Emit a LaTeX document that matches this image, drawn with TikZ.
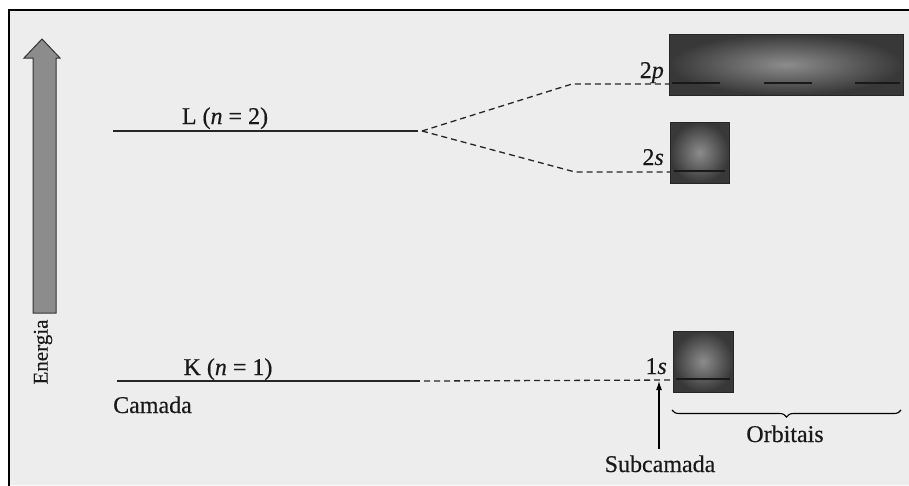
\documentclass[tikz,border=0pt]{standalone}
\usepackage{fontspec}
\setmainfont[FakeBold=0.4]{Liberation Serif}
\usetikzlibrary{decorations.pathreplacing,arrows.meta}
\tikzset{
  lbl/.style={font=\fontsize{24}{26}\selectfont, inner sep=0pt, black!90},
  level/.style={line width=1.4pt, black!85},
  dline/.style={dash pattern=on 6pt off 4pt, line width=1.3pt, black!85},
  orb/.style={draw=black!85, line width=1pt, inner color=black!45, outer color=black!78},
  tick/.style={line width=1.8pt, black!90}
}
\begin{document}
\begin{tikzpicture}[x=1pt,y=-1pt]
\useasboundingbox (0,0) rectangle (909,485);
\fill[white] (0,0) rectangle (909,485);
\fill[black!7] (9,10) rectangle (909,485);
\draw[line width=1.4pt] (9,490) -- (9,10) -- (915,10);
% energy arrow
\draw[fill=black!45, draw=black!80, line width=1pt]
  (33,313) -- (33,58) -- (24,58) -- (42,39) -- (60,58) -- (56,58) -- (56,313) -- cycle;
\node[lbl, font=\fontsize{21}{23}\selectfont, rotate=90] (en) at (43,352) {Energia};
% levels
\coordinate (Ls) at (113,131);
\coordinate (Le) at (418,131);
\draw[level] (Ls) -- (Le);
\node[lbl, anchor=base] (Llbl) at (225,124) {L (\textit{n} = 2)};
\coordinate (Ks) at (117,381);
\coordinate (Ke) at (420,381);
\draw[level] (Ks) -- (Ke);
\node[lbl, anchor=base] (Klbl) at (228,375) {K (\textit{n} = 1)};
\node[lbl, anchor=base west] (cam) at (113,413) {Camada};
% orbital boxes
\shade[orb] (669,34) rectangle (903,95);
\draw[tick] (672,83) -- (720,83);
\draw[tick] (764,83) -- (812,83);
\draw[tick] (855,83) -- (900,83);
\coordinate (p2) at (669,84);
\node[lbl, anchor=base east] (p2lbl) at (664,78) {2\textit{p}};
\shade[orb] (670,122) rectangle (729,183);
\draw[tick] (674,171) -- (725,171);
\coordinate (s2) at (670,172);
\node[lbl, anchor=base east] (s2lbl) at (664,165) {2\textit{s}};
\shade[orb] (673,331) rectangle (733,392);
\draw[tick] (676,379) -- (730,379);
\coordinate (s1) at (673,380);
\node[lbl, anchor=base east] (s1lbl) at (667,374) {1\textit{s}};
% dashed connectors
\draw[dline] (Le) ++(4,0) -- (572,84) -- (p2);
\draw[dline] (Le) ++(4,0) -- (575,172) -- (s2);
\draw[dline] (Ke) ++(4,0) -- (s1);
% subcamada arrow
\node[lbl, anchor=base] (sub) at (660,472) {Subcamada};
\coordinate (subtip) at (659,381);
\draw[line width=1.1pt, -{Latex[length=9pt,width=6pt]}] (659,449) -- (subtip);
% brace
\draw[line width=1.1pt, decorate, decoration={brace, mirror, amplitude=7pt}] (672,410) -- (901,410);
\node[lbl, anchor=base] (orbl) at (785,442) {Orbitais};
\end{tikzpicture}
\end{document}
